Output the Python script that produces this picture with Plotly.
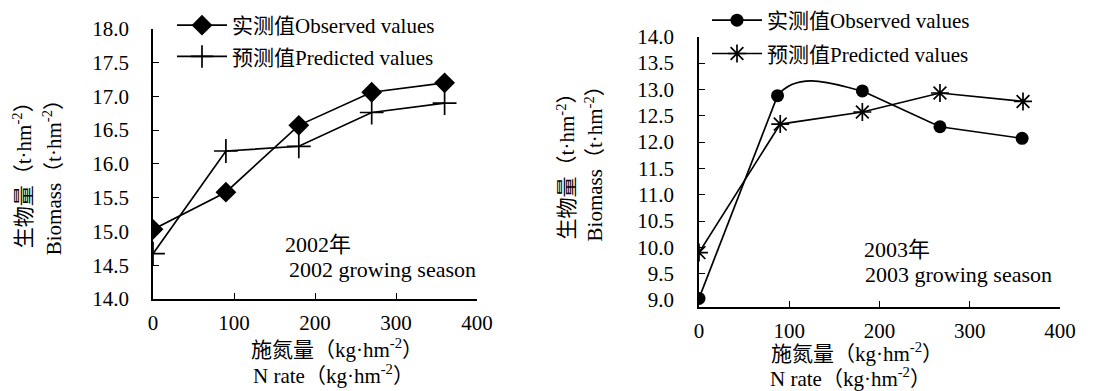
import plotly.graph_objects as go

# ---- data ----
n_rate_2002_obs = [0, 90, 180, 270, 360]
biomass_2002_obs = [15.03, 15.58, 16.57, 17.06, 17.2]
n_rate_2002_pred = [0, 90, 180, 270, 360]
biomass_2002_pred = [14.67, 16.19, 16.26, 16.76, 16.9]

n_rate_2003_obs = [0, 87, 181, 267, 358]
biomass_2003_obs = [9.03, 12.88, 12.97, 12.29, 12.07]
n_rate_2003_pred = [0, 90, 181, 267, 359]
biomass_2003_pred = [9.9, 12.34, 12.57, 12.93, 12.77]

x_ticks = [0, 100, 200, 300, 400]
y_ticks_2002 = [14.0, 14.5, 15.0, 15.5, 16.0, 16.5, 17.0, 17.5, 18.0]
y_ticks_2003 = [9.0, 9.5, 10.0, 10.5, 11.0, 11.5, 12.0, 12.5, 13.0, 13.5, 14.0]

obs_name = "实测值Observed values"
pred_name = "预测值Predicted values"

FONT = "Liberation Serif, Noto Sans CJK SC, serif"
W, H = 1104, 391
LW = 1.7

fig = go.Figure()

fig.add_trace(go.Scatter(
    x=n_rate_2002_obs, y=biomass_2002_obs, name=obs_name, mode="lines+markers",
    line=dict(color="black", width=LW),
    marker=dict(symbol="diamond", size=16, color="black"),
    xaxis="x", yaxis="y", legend="legend", legendgroup="a"))
fig.add_trace(go.Scatter(
    x=n_rate_2002_pred, y=biomass_2002_pred, name=pred_name, mode="lines+markers",
    line=dict(color="black", width=LW),
    marker=dict(symbol="cross-thin-open", size=17, line=dict(color="black", width=LW)),
    xaxis="x", yaxis="y", legend="legend", legendgroup="b"))

# 2003 observed: straight segments, with the 2nd segment drawn as a smoothed curve
gap_x = n_rate_2003_obs[:2] + [None] + n_rate_2003_obs[2:]
gap_y = biomass_2003_obs[:2] + [None] + biomass_2003_obs[2:]
fig.add_trace(go.Scatter(
    x=gap_x, y=gap_y, name=obs_name, mode="lines+markers", connectgaps=False,
    line=dict(color="black", width=LW),
    marker=dict(symbol="circle", size=13, color="black"),
    xaxis="x2", yaxis="y2", legend="legend2", legendgroup="c"))
fig.add_trace(go.Scatter(
    x=n_rate_2003_pred, y=biomass_2003_pred, name=pred_name, mode="lines+markers",
    line=dict(color="black", width=LW),
    marker=dict(symbol="asterisk-open", size=15, line=dict(color="black", width=LW)),
    xaxis="x2", yaxis="y2", legend="legend2", legendgroup="d"))

# Catmull-Rom style smoothed segment between 2nd and 3rd observed points (2003)
(x0, x1, x2, x3) = n_rate_2003_obs[0:4]
(y0, y1, y2, y3) = biomass_2003_obs[0:4]
k = 0.8 / 6.0
c1x, c1y = x1 + k * (x2 - x0), y1 + k * (y2 - y0)
c2x, c2y = x2 - k * (x3 - x1), y2 - k * (y3 - y1)
fig.add_shape(type="path", xref="x2", yref="y2",
              path=f"M {x1},{y1} C {c1x},{c1y} {c2x},{c2y} {x2},{y2}",
              line=dict(color="black", width=LW))

axis_common = dict(
    showline=True, linecolor="black", linewidth=1.5, showgrid=False, zeroline=False,
    ticks="inside", ticklen=6, tickwidth=1.3, tickcolor="black", automargin=False,
    tickfont=dict(family=FONT, size=21, color="black"),
)

fig.update_layout(
    template="none",
    width=W, height=H,
    margin=dict(l=0, r=0, t=0, b=0),
    paper_bgcolor="white", plot_bgcolor="white",
    font=dict(family=FONT, size=20, color="black"),
    xaxis=dict(domain=[153 / W, 477 / W], range=[0, 400], tickvals=x_ticks,
               anchor="y", ticklabelstandoff=4, **axis_common),
    yaxis=dict(domain=[(H - 298) / H, (H - 25) / H], range=[14, 18], tickvals=y_ticks_2002,
               tickformat=".1f", anchor="x", ticklabelstandoff=18, **axis_common),
    xaxis2=dict(domain=[699 / W, 1060 / W], range=[0, 400], tickvals=x_ticks,
                anchor="y2", ticklabelstandoff=4, **axis_common),
    yaxis2=dict(domain=[(H - 306) / H, (H - 33) / H], range=[8.87, 14.0], tickvals=y_ticks_2003,
                tickformat=".1f", anchor="x2", ticklabelstandoff=19, **axis_common),
    legend=dict(x=172 / W, y=1 - 1 / H, xanchor="left", yanchor="top", itemwidth=50,
                bgcolor="rgba(0,0,0,0)", tracegroupgap=1,
                font=dict(family=FONT, size=21, color="black")),
    legend2=dict(x=707 / W, y=1 + 4 / H, xanchor="left", yanchor="top", itemwidth=50,
                 bgcolor="rgba(0,0,0,0)", tracegroupgap=3,
                 font=dict(family=FONT, size=21, color="black")),
)

def ann(text, x, y, angle=0, xanchor="center", size=21):
    fig.add_annotation(text=text, x=x / W, y=1 - y / H, xref="paper", yref="paper",
                       showarrow=False, textangle=angle, xanchor=xanchor, yanchor="middle",
                       font=dict(family=FONT, size=size, color="black"))

sup = "（t·hm<sup>-2</sup>）"
ksup = "（kg·hm<sup>-2</sup>）"
# left panel titles
ann("生物量" + sup, 22, 168, angle=-90)
ann("Biomass" + sup, 52, 170, angle=-90)
ann("施氮量" + ksup, 337, 348)
ann("N rate" + ksup, 333, 374)
ann("2002年", 283, 243, xanchor="left", size=22)
ann("2002 growing season", 287, 268, xanchor="left", size=22)
# right panel titles
ann("生物量" + sup, 566, 158, angle=-90)
ann("Biomass" + sup, 594, 156, angle=-90)
ann("施氮量" + ksup, 857, 352)
ann("N rate" + ksup, 850, 377)
ann("2003年", 862, 248, xanchor="left", size=22)
ann("2003 growing season", 863, 273, xanchor="left", size=22)

fig.write_html("out.html", config={"displayModeBar": False},
               post_script="document.body.style.margin='0';document.body.style.overflow='hidden';")
